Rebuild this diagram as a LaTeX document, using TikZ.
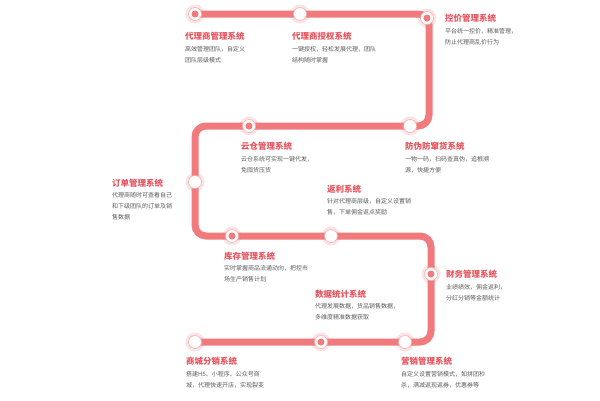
\documentclass[tikz,border=0pt]{standalone}
\usepackage{fontspec}
\setmainfont{Noto Sans CJK SC}
\begin{document}
\begin{tikzpicture}[x=1pt,y=-1pt,
  track/.style={draw=trackc,line width=7pt,rounded corners=11pt},
  glow/.style={circle,fill=trackc,opacity=0.2,minimum size=19pt,inner sep=0},
  stopa/.style={circle,fill=white,draw=trackc!60,line width=0.6pt,minimum size=13pt,inner sep=0},
  ttl/.style={anchor=west,text=titlec,font=\fontsize{8.5}{10}\selectfont\bfseries,inner sep=0},
  dsc/.style={anchor=north west,text=descc,font=\fontsize{6}{11}\selectfont,align=left,inner sep=0}]
\definecolor{trackc}{HTML}{F07A7C}
\definecolor{titlec}{HTML}{E6545E}
\definecolor{descc}{HTML}{5A5A5A}
\useasboundingbox (0,0) rectangle (600,400);
% track
\draw[track] (195,14) -- (429,14) -- (429,126) -- (195,126) -- (195,236) -- (431,236) -- (431,342) -- (195,342);
% stops
\foreach \n/\x/\y/\d in {s1/195/14/1,s2/300/14/0,s3/427/18/1,s4/410/126/0,s5/249/126/1,s6/195/182/0,
  s7/232/236/1,s8/331/236/0,s9/431/274/1,s10/405/342/0,s11/321/342/1,s12/195/342/0}{
  \node[glow] at (\x,\y) {};
  \node[stopa] (\n) at (\x,\y) {};
  \ifnum\d=1 \fill[trackc] (\n) circle (3.5pt);\fi
}
% labels
\node[ttl] (t1) at (185,36) {代理商管理系统};
\node[dsc] (d1) at (185,46) {高效管理团队，自定义\\团队层级模式};
\node[ttl] (t2) at (292,36) {代理商授权系统};
\node[dsc] (d2) at (292,46) {一键授权，轻松发展代理，团队\\结构随时掌握};
\node[ttl] (t3) at (445,18) {控价管理系统};
\node[dsc] (d3) at (445,28) {平台统一控价，精准管理，\\防止代理商乱价行为};
\node[ttl] (t4) at (241,146) {云仓管理系统};
\node[dsc] (d4) at (241,156) {云仓系统可实现一键代发，\\免囤货压货};
\node[ttl] (t5) at (405,146) {防伪防窜货系统};
\node[dsc] (d5) at (405,156) {一物一码，扫码查真伪，追根溯\\源，快捷方便};
\node[ttl] (t6) at (112,183) {订单管理系统};
\node[dsc] (d6) at (112,192) {代理商随时可查看自己\\和下级团队的订单及销\\售数据};
\node[ttl] (t7) at (327,189) {返利系统};
\node[dsc] (d7) at (327,198) {针对代理商层级，自定义设置销\\售，下单佣金返点奖励};
\node[ttl] (t8) at (224,256) {库存管理系统};
\node[dsc] (d8) at (224,265) {实时掌握商品流通动向，把控市\\场生产销售计划};
\node[ttl] (t9) at (446,274) {财务管理系统};
\node[dsc] (d9) at (446,284) {业绩绩效，佣金返利，\\分红分销等金额统计};
\node[ttl] (t10) at (315,294) {数据统计系统};
\node[dsc] (d10) at (315,303) {代理发展数据，货品销售数据，\\多维度精准数据获取};
\node[ttl] (t11) at (186,361) {商城分销系统};
\node[dsc] (d11) at (186,371) {搭建H5、小程序、公众号商\\城，代理快速开店，实现裂变};
\node[ttl] (t12) at (401,361) {营销管理系统};
\node[dsc] (d12) at (401,371) {自定义设置营销模式，如拼团秒\\杀，满减返现返券，优惠券等};
\end{tikzpicture}
\end{document}
